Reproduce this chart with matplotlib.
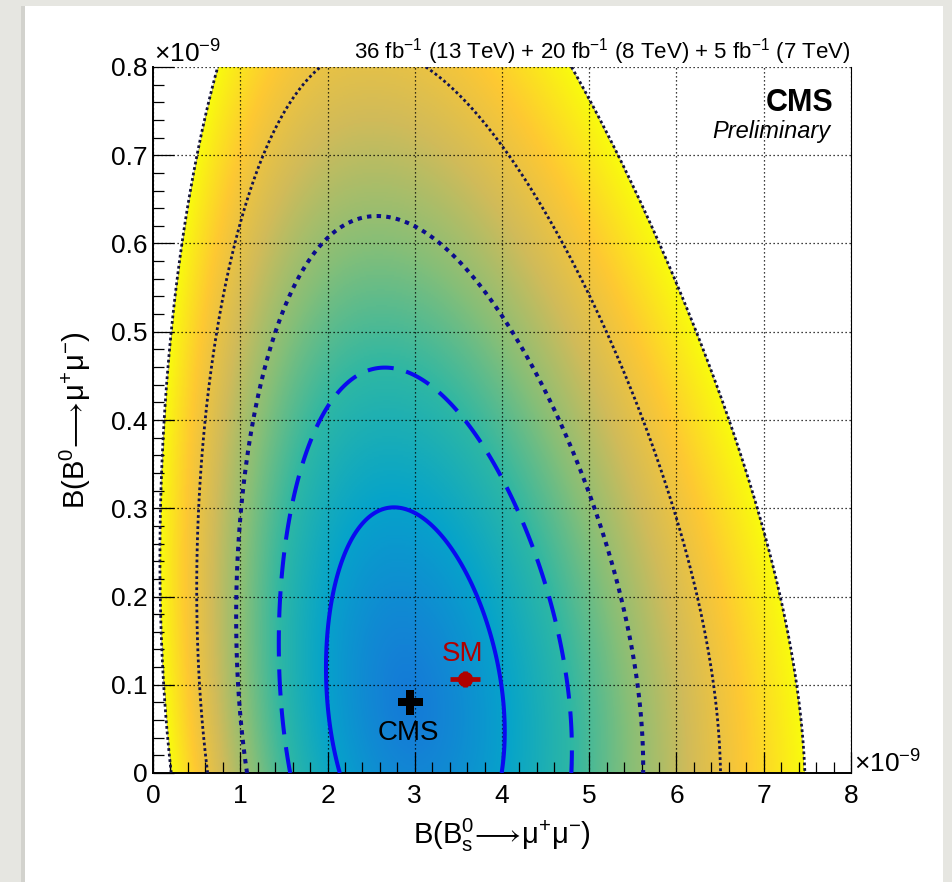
import numpy as np
import matplotlib
matplotlib.use("Agg")
import matplotlib.pyplot as plt
from matplotlib.colors import LinearSegmentedColormap
from matplotlib.patches import Rectangle
from matplotlib.ticker import MultipleLocator, FuncFormatter

plt.rcParams['font.family'] = ['Liberation Sans', 'DejaVu Sans']
plt.rcParams['mathtext.fontset'] = 'custom'
plt.rcParams['mathtext.rm'] = 'Liberation Sans'
plt.rcParams['mathtext.it'] = 'Liberation Sans:italic'
plt.rcParams['mathtext.bf'] = 'Liberation Sans:bold'

# ---------------- data ----------------
chi2_levels = [2.30, 6.18, 11.83, 19.33, 28.74]   # 1..5 sigma (2 d.o.f.)
c1_x = [2.15, 4.02, 2.00, 3.98, 2.03, 3.78, 2.11, 3.63, 2.24, 3.37, 2.75]
c1_y = [0.00, 0.00, 0.10, 0.10, 0.20, 0.20, 0.219, 0.219, 0.26, 0.26, 0.303]
c2_x = [1.58, 4.79, 1.48, 4.74, 1.44, 4.60, 1.47, 4.45, 1.59, 4.17, 1.89, 3.54, 2.20, 3.08, 2.64]
c2_y = [0.00, 0.00, 0.10, 0.10, 0.20, 0.20, 0.219, 0.219, 0.30, 0.30, 0.40, 0.40, 0.445, 0.445, 0.459]
c3_x = [1.07, 5.62, 0.98, 5.54, 0.95, 5.37, 0.98, 5.31, 1.00, 5.03, 1.14, 4.63, 1.26, 4.41, 1.39, 4.10, 1.95, 3.17, 2.60]
c3_y = [0.00, 0.00, 0.10, 0.10, 0.20, 0.196, 0.219, 0.219, 0.30, 0.30, 0.40, 0.40, 0.445, 0.445, 0.50, 0.50, 0.60, 0.60, 0.632]
c4_x = [0.60, 6.51, 0.54, 6.43, 0.50, 6.25, 0.52, 5.95, 0.59, 5.62, 0.64, 5.41, 0.74, 5.19, 0.95, 4.69, 1.13, 4.27, 1.26, 4.03, 3.75, 1.93, 3.08]
c4_y = [0.00, 0.00, 0.10, 0.10, 0.20, 0.196, 0.30, 0.30, 0.40, 0.40, 0.445, 0.445, 0.50, 0.50, 0.60, 0.60, 0.672, 0.672, 0.70, 0.70, 0.746, 0.80, 0.80]
c5_x = [0.19, 7.47, 0.14, 7.38, 0.10, 7.19, 0.08, 6.91, 0.12, 6.62, 6.44, 0.24, 0.32, 0.46, 5.52, 0.50, 5.37, 0.74, 4.82]
c5_y = [0.00, 0.00, 0.10, 0.10, 0.20, 0.196, 0.30, 0.30, 0.40, 0.40, 0.445, 0.50, 0.60, 0.672, 0.672, 0.70, 0.70, 0.80, 0.80]

cms_x, cms_y = [2.945], [0.081]
sm_x, sm_y, sm_xerr, sm_yerr = [3.576], [0.1065], [0.17], [0.009]

# ---------------- likelihood model fitted to the contour points ----------------
def chi2_model(p, x, y):
    x0, a1, a2, sL, bL, sR, bR, sy, by, kx, y0 = p
    e = y - y0
    xc = x0 - a1 * e - a2 * e * e
    d = x - xc
    wx = np.where(d < 0, sL + bL * d, sR + bR * d) * (1 + kx * e)
    wx = np.maximum(wx, 1e-3)
    wy = np.maximum(sy + by * e, 1e-3)
    return (d / wx) ** 2 + (e / wy) ** 2

px = np.concatenate([c1_x, c2_x, c3_x, c4_x, c5_x])
py = np.concatenate([c1_y, c2_y, c3_y, c4_y, c5_y])
pl = np.concatenate([[chi2_levels[i]] * len(c) for i, c in enumerate([c1_x, c2_x, c3_x, c4_x, c5_x])])

def loss(p):
    c = chi2_model(p, px, py)
    return np.sum((np.sqrt(c) - np.sqrt(pl)) ** 2)

def nelder_mead(f, x0, steps, maxit=8000):
    n = len(x0)
    simplex = [np.array(x0, float)]
    for i in range(n):
        v = np.array(x0, float); v[i] += steps[i]; simplex.append(v)
    simplex = np.array(simplex)
    vals = np.array([f(s) for s in simplex])
    for _ in range(maxit):
        o = np.argsort(vals); simplex = simplex[o]; vals = vals[o]
        if vals[-1] - vals[0] < 1e-12:
            break
        cen = simplex[:-1].mean(0)
        xr = cen + (cen - simplex[-1]); fr = f(xr)
        if fr < vals[0]:
            xe = cen + 2 * (cen - simplex[-1]); fe = f(xe)
            if fe < fr:
                simplex[-1] = xe; vals[-1] = fe
            else:
                simplex[-1] = xr; vals[-1] = fr
        elif fr < vals[-2]:
            simplex[-1] = xr; vals[-1] = fr
        else:
            xc = cen + 0.5 * ((xr if fr < vals[-1] else simplex[-1]) - cen)
            fc = f(xc)
            if fc < min(fr, vals[-1]):
                simplex[-1] = xc; vals[-1] = fc
            else:
                simplex[1:] = simplex[0] + 0.5 * (simplex[1:] - simplex[0])
                vals[1:] = [f(s) for s in simplex[1:]]
    o = np.argmin(vals)
    return simplex[o], vals[o]

p = np.array([2.935, 0.867, -0.356, 0.6657, 0.0512, 0.6733, 0.0358, 0.1352, 0.045, -0.0727, 0.081])
st = np.array([0.05, 0.1, 0.15, 0.05, 0.01, 0.05, 0.01, 0.015, 0.015, 0.1, 0.015])
for k in range(3):
    p, lv = nelder_mead(loss, p, st * (0.5 ** k))

# ---------------- figure ----------------
fig = plt.figure(figsize=(9.52, 8.82), dpi=100, facecolor='#e6e6e1')
fig.patches.append(Rectangle((25 / 952, 0), 918 / 952, 876 / 882, transform=fig.transFigure,
                             facecolor='white', edgecolor='none', zorder=-10))
fig.patches.append(Rectangle((21 / 952, 0), 4 / 952, 876 / 882, transform=fig.transFigure,
                             facecolor='#d2d2cd', edgecolor='none', zorder=-9))
ax = fig.add_axes([153 / 952, 1 - 773 / 882, 698 / 952, 706 / 882])

bird = LinearSegmentedColormap.from_list('bird', [
    (0.000, (0.2082, 0.1664, 0.5293)), (0.125, (0.0592, 0.3599, 0.8684)),
    (0.250, (0.0780, 0.5041, 0.8385)), (0.375, (0.0232, 0.6419, 0.7914)),
    (0.500, (0.1802, 0.7178, 0.6425)), (0.625, (0.5301, 0.7492, 0.4662)),
    (0.750, (0.8186, 0.7328, 0.3499)), (0.875, (0.9956, 0.7862, 0.1968)),
    (1.000, (0.9764, 0.9832, 0.0539))])

gx = np.linspace(0, 8, 801)
gy = np.linspace(0, 0.8, 401)
X, Y = np.meshgrid(gx, gy)
Z = chi2_model(p, X, Y)
f0, gam = 0.23, 0.68
F = f0 + (1 - f0) * (np.clip(Z, 0, None) / chi2_levels[-1]) ** gam
F = np.ma.masked_where(Z > chi2_levels[-1], F)
ax.imshow(F, extent=[0, 8, 0, 0.8], origin='lower', aspect='auto', cmap=bird,
          vmin=0, vmax=1, interpolation='bilinear', zorder=0)

styles = [
    dict(color='#0a0af0', lw=2.9, ls='-'),
    dict(color='#0a0af0', lw=2.9, ls=(0, (6.5, 3.2))),
    dict(color='#0c0c8c', lw=2.9, ls=(0, (1.1, 1.3))),
    dict(color='#121250', lw=2.0, ls=(0, (1.0, 1.0))),
    dict(color='#121238', lw=2.0, ls=(0, (1.0, 1.0))),
]
for lev, s in zip(chi2_levels, styles):
    cs = ax.contour(X, Y, Z, levels=[lev], colors=[s['color']], linewidths=s['lw'], zorder=3)
    cs.set_linestyle(s['ls'])
    cs.set_capstyle('butt')

ax.set_xlim(0, 8)
ax.set_ylim(0, 0.8)
ax.xaxis.set_major_locator(MultipleLocator(1))
ax.xaxis.set_minor_locator(MultipleLocator(0.2))
ax.yaxis.set_major_locator(MultipleLocator(0.1))
ax.yaxis.set_minor_locator(MultipleLocator(0.02))
ax.xaxis.set_major_formatter(FuncFormatter(lambda v, _: f'{v:g}'))
ax.yaxis.set_major_formatter(FuncFormatter(lambda v, _: f'{round(v, 2):g}'))
ax.tick_params(which='both', direction='in', top=False, right=False, width=0.9, labelsize=19)
ax.tick_params(axis='x', which='major', length=15, pad=8)
ax.tick_params(axis='y', which='major', length=15, pad=4)
ax.tick_params(which='minor', length=8)
ax.grid(True, which='major', color='black', linestyle=(0, (1, 2.2)), linewidth=0.9, zorder=2)
ax.set_axisbelow(False)
for sp in ['left', 'bottom']:
    ax.spines[sp].set_linewidth(1.4)
ax.spines['right'].set_linewidth(0.8)
ax.spines['top'].set_visible(False)

ax.set_xlabel(r'$\mathrm{B(B^0_s\!\longrightarrow\!\mu^{{+}}\mu^{{-}})}$', fontsize=21, labelpad=6)
ax.set_ylabel(r'$\mathrm{B(B^0\!\longrightarrow\!\mu^{{+}}\mu^{{-}})}$', fontsize=21, labelpad=13)

ax.text(0.002, 1.006, '×10$^{-9}$', transform=ax.transAxes, fontsize=19, ha='left', va='baseline')
ax.text(1.005, 0.0, '×10$^{-9}$', transform=ax.transAxes, fontsize=19, ha='left', va='baseline')
ax.text(1.0, 1.012, '36 fb$^{-1}$ (13 TeV) + 20 fb$^{-1}$ (8 TeV) + 5 fb$^{-1}$ (7 TeV)',
        transform=ax.transAxes, fontsize=16, ha='right', va='baseline')
ax.text(0.975, 0.937, 'CMS', transform=ax.transAxes, fontsize=22, fontweight='bold', ha='right', va='baseline')
ax.text(0.97, 0.900, 'Preliminary', transform=ax.transAxes, fontsize=17, style='italic', ha='right', va='baseline')

ax.plot(cms_x, cms_y, marker='P', ms=18, color='black', mew=0, ls='none', zorder=5)
ax.text(cms_x[0] - 0.02, cms_y[0] - 0.036, 'CMS', fontsize=20, ha='center', va='center', zorder=5)
ax.errorbar(sm_x, sm_y, xerr=sm_xerr, yerr=sm_yerr, fmt='o', ms=10, color='#b00000', lw=3.4,
            capsize=0, zorder=5)
ax.text(sm_x[0] - 0.03, sm_y[0] + 0.028, 'SM', fontsize=20, color='#b00000', ha='center', va='center', zorder=5)

fig.savefig('out.png', dpi=100, facecolor=fig.get_facecolor())
